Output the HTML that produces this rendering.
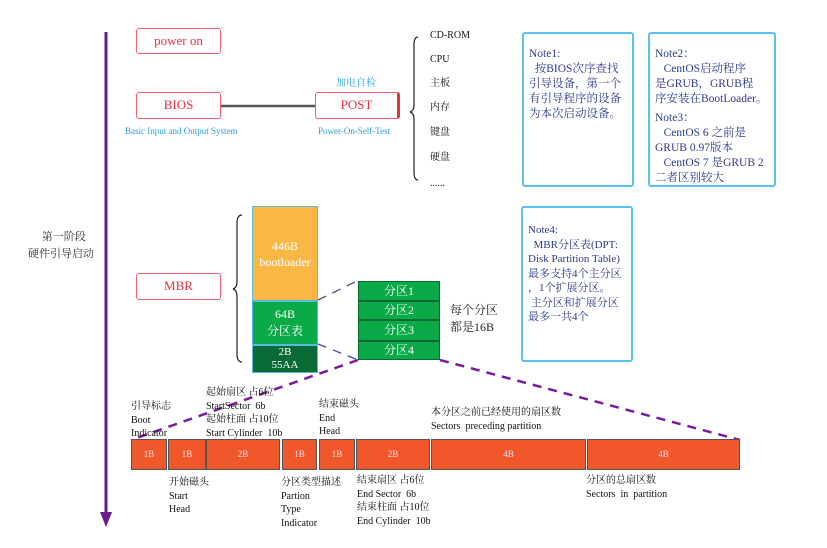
<!DOCTYPE html>
<html><head><meta charset="utf-8"><style>
body{margin:0;width:827px;height:548px;background:#fff;position:relative;overflow:hidden;font-family:"Liberation Serif","Noto Serif CJK SC",serif;}
.a{position:absolute;white-space:nowrap;}
.rb{position:absolute;border:1.5px solid #f0606e;border-radius:3px;color:#e8303f;font-size:13px;text-align:center;box-sizing:border-box;background:#fff;}
.bl{color:#2aa0e0;font-size:9px;}
.t{font-size:10px;color:#111;line-height:13.5px;}
.note{position:absolute;border:2px solid #5cc0ee;border-radius:3px;box-sizing:border-box;color:#2c3a8c;font-size:11.5px;line-height:15px;padding:0 0 0 5px;white-space:nowrap;overflow:hidden;}
.cell{position:absolute;top:439px;height:31px;background:#f0572b;border:1.2px solid #555;box-sizing:border-box;color:#fde;font-size:9px;text-align:center;line-height:29px;}
.p{position:absolute;left:358px;width:82px;background:#0aaa48;border:1px solid #0b6a33;box-sizing:border-box;color:#fff;font-size:12px;text-align:center;}
</style></head><body>
<svg class="a" style="left:0;top:0" width="827" height="548">
<line x1="106" y1="32" x2="106" y2="515" stroke="#6a1a8a" stroke-width="3"/>
<polygon points="100,512 112,512 106,527" fill="#6a1a8a"/>
<line x1="221" y1="106" x2="315" y2="106" stroke="#555" stroke-width="2.5"/>
<path d="M418,37 q-4,0 -4,8 v60 q0,6 -4,7 q4,1 4,7 v53 q0,8 4,8" fill="none" stroke="#222" stroke-width="1.2"/>
<path d="M242,215 q-5,0 -5,8 v58 q0,7 -4,8 q4,1 4,8 v57 q0,8 5,8" fill="none" stroke="#222" stroke-width="1.2"/>
<g stroke-dasharray="9,7" fill="none">
<line x1="318" y1="300" x2="355" y2="282" stroke="#4a4aa0" stroke-width="1.3"/>
<line x1="318" y1="344" x2="358" y2="360" stroke="#4a4aa0" stroke-width="1.3"/>
<line x1="358" y1="360" x2="131" y2="440" stroke="#7a1aa0" stroke-width="2.5"/>
<line x1="440" y1="360" x2="740" y2="440" stroke="#7a1aa0" stroke-width="2.5"/>
</g>
</svg>
<div class="rb" style="left:136px;top:28px;width:85px;height:26px;line-height:23px;">power on</div>
<div class="rb" style="left:136px;top:92px;width:85px;height:27px;line-height:24px;">BIOS</div>
<div class="rb" style="left:315px;top:92px;width:85px;height:27px;line-height:24px;border-right:3px solid #e8303f;">POST</div>
<div class="a bl" style="left:336px;top:74px;font-size:10px;">加电自检</div>
<div class="a bl" style="left:125px;top:126px;">Basic Input and Output System</div>
<div class="a bl" style="left:318px;top:126px;">Power-On-Self-Test</div>
<div class="a t" style="left:430px;top:29px;">CD-ROM</div>
<div class="a t" style="left:430px;top:53px;">CPU</div>
<div class="a t" style="left:430px;top:77px;">主板</div>
<div class="a t" style="left:430px;top:101px;">内存</div>
<div class="a t" style="left:430px;top:126px;">键盘</div>
<div class="a t" style="left:430px;top:151px;">硬盘</div>
<div class="a t" style="left:430px;top:177px;">......</div>
<div class="note" style="left:522px;top:32px;width:112px;height:155px;padding-top:13px;">Note1:<br>&nbsp;&nbsp;按BIOS次序查找<br>引导设备，第一个<br>有引导程序的设备<br>为本次启动设备。</div>
<div class="note" style="left:648px;top:32px;width:128px;height:155px;padding-top:13px;">Note2：<br>&nbsp;&nbsp;&nbsp;CentOS启动程序<br>是GRUB，GRUB程<br>序安装在BootLoader。<div style="height:4px"></div>Note3：<br>&nbsp;&nbsp;&nbsp;CentOS 6 之前是<br>GRUB 0.97版本<br>&nbsp;&nbsp;&nbsp;CentOS 7 是GRUB 2<br>二者区别较大</div>
<div class="note" style="left:521px;top:206px;width:112px;height:156px;padding-top:15px;line-height:14.5px;font-size:11px;">Note4:<br>&nbsp;&nbsp;MBR分区表(DPT:<br>Disk Partition Table)<br>最多支持4个主分区<br>，1个扩展分区。<br>&nbsp;主分区和扩展分区<br>最多一共4个</div>
<div class="a" style="left:28px;top:229px;font-size:11px;color:#333;text-align:center;line-height:17px;">&nbsp;&nbsp;第一阶段<br>硬件引导启动</div>
<div class="rb" style="left:136px;top:273px;width:85px;height:27px;line-height:24px;">MBR</div>
<div class="a" style="left:252px;top:206px;width:66px;height:95px;background:#f9b846;border:1px solid #5bb8e0;box-sizing:border-box;color:#fff;font-size:12px;text-align:center;line-height:16px;padding-top:31px;">446B<br>bootloader</div>
<div class="a" style="left:252px;top:301px;width:66px;height:44px;background:#0aaa48;border:1.5px solid #5bb8e0;box-sizing:border-box;color:#fff;font-size:12px;text-align:center;line-height:17px;padding-top:4px;">64B<br>分区表</div>
<div class="a" style="left:252px;top:345px;width:66px;height:28px;background:#0a6a35;border:1.5px solid #5bb8e0;box-sizing:border-box;color:#fff;font-size:11px;text-align:center;line-height:13px;">2B<br>55AA</div>
<div class="p" style="top:281px;height:20px;line-height:18px;">分区1</div>
<div class="p" style="top:301px;height:19px;line-height:17px;">分区2</div>
<div class="p" style="top:320px;height:21px;line-height:19px;">分区3</div>
<div class="p" style="top:341px;height:19px;line-height:17px;">分区4</div>
<div class="a" style="left:450px;top:302px;font-size:12px;line-height:17px;color:#222;">每个分区<br>都是16B</div>
<div class="cell" style="left:131px;width:36px;">1B</div>
<div class="cell" style="left:168px;width:38px;">1B</div>
<div class="cell" style="left:206px;width:74px;">2B</div>
<div class="cell" style="left:282px;width:35px;">1B</div>
<div class="cell" style="left:319px;width:36px;">1B</div>
<div class="cell" style="left:356px;width:74px;">2B</div>
<div class="cell" style="left:431px;width:155px;">4B</div>
<div class="cell" style="left:587px;width:153px;">4B</div>
<div class="a t" style="left:131px;top:400px;">引导标志<br>Boot<br>Indicator</div>
<div class="a t" style="left:206px;top:386px;">起始扇区 占6位<br>StartSector&nbsp; 6b<br>起始柱面 占10位<br>Start Cylinder&nbsp; 10b</div>
<div class="a t" style="left:319px;top:398px;">结束磁头<br>End<br>Head</div>
<div class="a t" style="left:431px;top:406px;">本分区之前已经使用的扇区数<br>Sectors&nbsp; preceding partition</div>
<div class="a t" style="left:169px;top:476px;">开始磁头<br>Start<br>Head</div>
<div class="a t" style="left:281px;top:476px;">分区类型描述<br>Partion<br>Type<br>Indicator</div>
<div class="a t" style="left:357px;top:474px;">结束扇区 占6位<br>End Sector&nbsp; 6b<br>结束柱面 占10位<br>End Cylinder&nbsp; 10b</div>
<div class="a t" style="left:586px;top:474px;">分区的总扇区数<br>Sectors&nbsp; in&nbsp; partition</div>
</body></html>
